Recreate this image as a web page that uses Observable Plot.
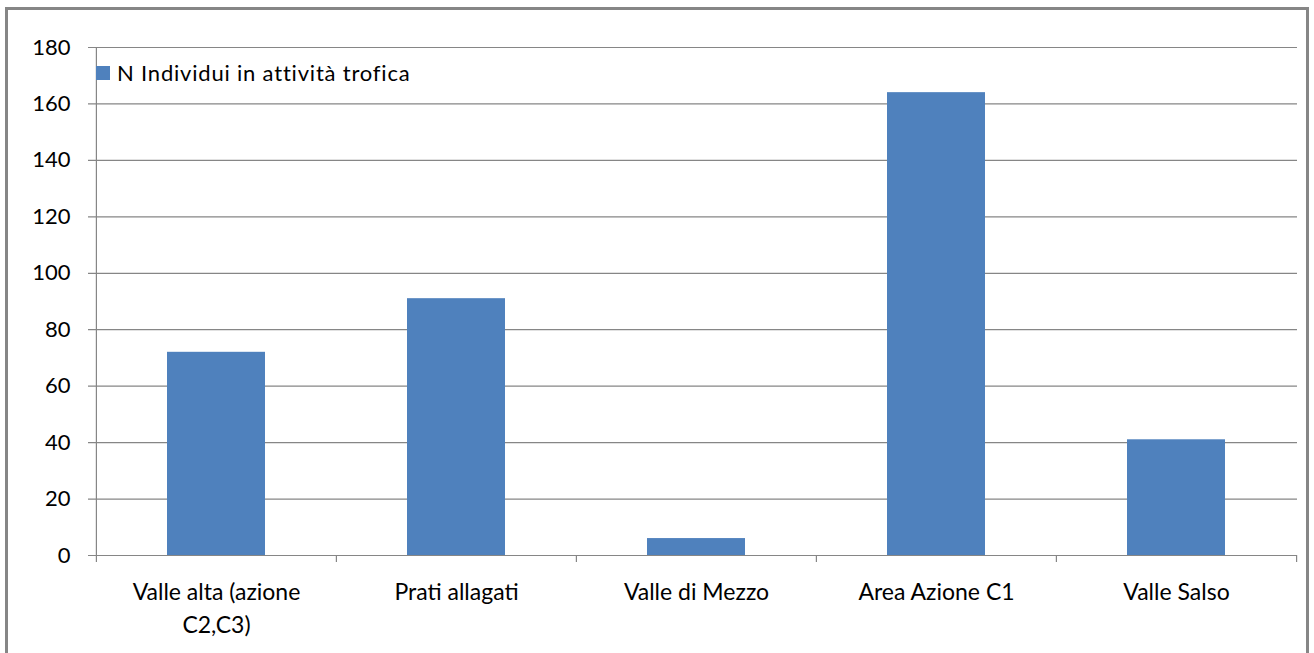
<!DOCTYPE html>
<html>
<head>
<meta charset="utf-8">
<script src="https://cdn.jsdelivr.net/npm/d3@7"></script>
<script src="https://cdn.jsdelivr.net/npm/@observablehq/plot@0.6"></script>
<style>
  html, body { margin: 0; padding: 0; background: #fff; }
  #wrap { position: relative; width: 1314px; height: 653px; overflow: hidden; font-family: Lato, "Open Sans", sans-serif; }
  #border { position: absolute; left: 5px; top: 7px; width: 1304px; height: 650px; border: 3px solid #868686; box-sizing: border-box; pointer-events: none; }
  #chart { position: absolute; left: 0; top: 0; }
  #legend { position: absolute; left: 96px; top: 59px; display: flex; align-items: center; font-size: 22px; letter-spacing: 0.8px; color: #000; }
  #legend .sw { width: 14px; height: 14px; background: #4F81BD; margin-right: 7px; }
</style>
</head>
<body>
<div id="wrap">
  <div id="chart"></div>
  <div id="legend"><span class="sw"></span><span id="legendText"></span></div>
  <div id="border"></div>
</div>
<script>
const categories = ["Valle alta (azione\nC2,C3)", "Prati allagati", "Valle di Mezzo", "Area Azione C1", "Valle Salso"];
const values = [72, 91, 6, 164, 41];
const yTicks = [0, 20, 40, 60, 80, 100, 120, 140, 160, 180];
const seriesName = "N Individui in attività trofica";

document.getElementById("legendText").textContent = seriesName;

const data = categories.map((c, i) => ({category: c, value: values[i]}));

const W = 1314, H = 653, mL = 96, mR = 17, mT = 47, mB = 98;
const step = (W - mL - mR) / categories.length;
const gray = "#868686";

const chart = Plot.plot({
  width: W,
  height: H,
  marginLeft: mL,
  marginRight: mR,
  marginTop: mT,
  marginBottom: mB,
  style: {fontFamily: "Lato, 'Open Sans', sans-serif", color: "#000", background: "transparent"},
  x: {domain: categories, paddingInner: 0.59, paddingOuter: 0.295, label: null},
  y: {domain: [0, 180], label: null},
  marks: [
    Plot.ruleY(yTicks, {y: d => d, stroke: gray, strokeWidth: 1.2, insetLeft: -8}),
    Plot.barY(data, {x: "category", y: "value", fill: "#4F81BD"}),
    // left axis line
    Plot.ruleX(categories.slice(0, 1), {x: d => d, dx: -step / 2, y1: 0, y2: 180, stroke: gray, strokeWidth: 1.2}),
    // category boundary tick marks
    Plot.ruleX(categories, {x: d => d, dx: -step / 2, y1: 0, y2: 0, insetBottom: -7, stroke: gray, strokeWidth: 1.2}),
    Plot.ruleX(categories.slice(-1), {x: d => d, dx: step / 2, y1: 0, y2: 0, insetBottom: -7, stroke: gray, strokeWidth: 1.2}),
    Plot.axisY({ticks: yTicks, tickSize: 0, tickPadding: 26, fontSize: 22, letterSpacing: 0.6, tickFormat: d => String(d)}),
    Plot.axisX({tickSize: 0, tickPadding: 22, fontSize: 23, letterSpacing: 0.3, lineHeight: 1.4, tickFormat: d => d})
  ]
});
document.getElementById("chart").appendChild(chart);
</script>
</body>
</html>
